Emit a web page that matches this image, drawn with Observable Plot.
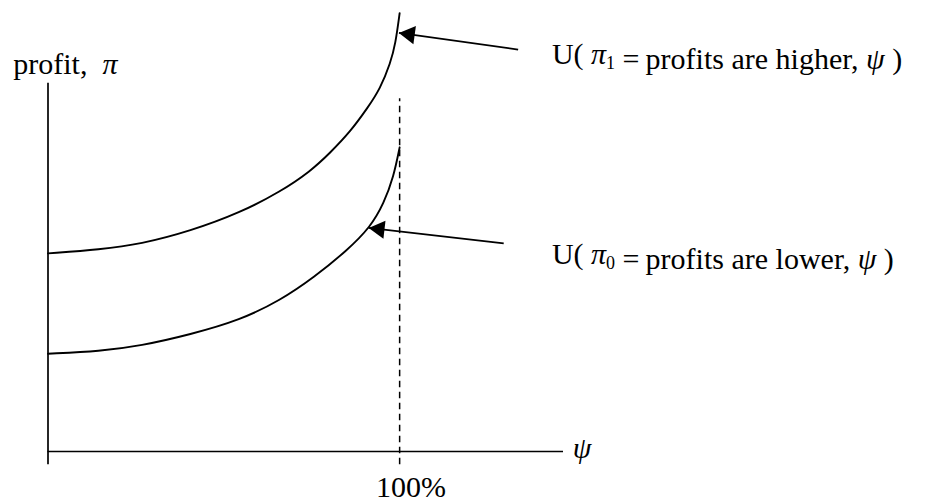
<!DOCTYPE html>
<html>
<head>
<meta charset="utf-8">
<script src="https://cdn.jsdelivr.net/npm/d3@7"></script>
<script src="https://cdn.jsdelivr.net/npm/@observablehq/plot@0.6"></script>
<style>
  html, body { margin: 0; padding: 0; background: #fff; }
  #chart svg { display: block; }
</style>
</head>
<body>
<div id="chart"></div>
<script>
// ψ (share, %) along x, profit π along y (arbitrary 0–100 units)
const psiHigh = [0, 14.9, 26.3, 40.5, 54.7, 66.1, 74.6, 80.3, 86.0, 90.8, 94.5, 97.4, 98.8, 100];
const piHigh  = [45.2, 46.1, 47.3, 50.3, 54.5, 59.3, 63.9, 68.2, 73.0, 78.3, 82.8, 88.7, 92.9, 100];
const psiLow  = [0, 14.9, 26.3, 40.5, 54.7, 66.1, 75.6, 85.1, 91.7, 95.5, 98.3, 100];
const piLow   = [22.3, 22.9, 24.1, 26.7, 30.0, 34.5, 39.7, 45.9, 51.2, 56.6, 62.7, 69.4];

const seriesNames = ["higher", "lower"];
const curveLabels = ["U( π₁ =\u2009profits are higher, ψ )", "U( π₀ =\u2009profits are lower, ψ )"];
const labelPsi = [143.3, 143.3];
const labelPi  = [90.6, 44.9];
const arrowTailPsi = [133.7, 129.6];
const arrowTailPi  = [91.7, 47.5];
const arrowTipPsi  = [99.8, 91.2];
const arrowTipPi   = [95.5, 51.0];

const psiMax = 146.6;           // extent of the ψ axis
const fullShare = 100;          // 100% marker
const fullShareLabel = "100%";
const dashTop = 80.5;           // top of the dashed line (π units)
const axisTop = 84.0;           // top of the profit axis
const axisBottom = -3.0;        // axes poke below the ψ axis
const yTitle = "profit,\u00a0 π";
const xTitle = "ψ";

const W = 938, H = 504;
const mL = 47.5, mR = W - 563, mT = 12.7, mB = H - 451;

const curves = [
  ...psiHigh.map((p, i) => ({s: "higher", psi: p, pi: piHigh[i]})),
  ...psiLow.map((p, i) => ({s: "lower", psi: p, pi: piLow[i]}))
];

const sx = Plot.scale({x: {domain: [0, psiMax], range: [mL, W - mR]}});
const sy = Plot.scale({y: {domain: [0, 100], range: [H - mB, mT]}});

const arrows = seriesNames.map((s, i) => {
  const x1 = sx.apply(arrowTailPsi[i]), y1 = sy.apply(arrowTailPi[i]);
  const x2 = sx.apply(arrowTipPsi[i]), y2 = sy.apply(arrowTipPi[i]);
  const dx = x2 - x1, dy = y2 - y1, len = Math.hypot(dx, dy);
  return {
    s, x1: arrowTailPsi[i], y1: arrowTailPi[i], x2: arrowTipPsi[i], y2: arrowTipPi[i],
    ux: dx / len, uy: dy / len,
    rot: Math.atan2(dx, -dy) * 180 / Math.PI
  };
});

const r = 6.8;
const centroidBack = 1.555 * r;
const font = "'Liberation Serif', 'Times New Roman', serif";

const headMarks = arrows.map(a => Plot.dot([a], {
  x: "x2", y: "y2", symbol: "triangle", r, rotate: a.rot,
  fill: "black", stroke: null,
  dx: -a.ux * centroidBack, dy: -a.uy * centroidBack
}));

const labels = seriesNames.map((s, i) => ({text: curveLabels[i], psi: labelPsi[i], pi: labelPi[i]}));
const textOpts = {fontSize: 30, fontFamily: font, fill: "black"};

const plot = Plot.plot({
  width: W, height: H,
  marginLeft: mL, marginRight: mR, marginTop: mT, marginBottom: mB,
  x: {domain: [0, psiMax], axis: null},
  y: {domain: [0, 100], axis: null},
  style: {fontFamily: font, background: "white", overflow: "visible"},
  marks: [
    Plot.ruleX([0], {y1: axisBottom, y2: axisTop, stroke: "black", strokeWidth: 1.7}),
    Plot.ruleY([0], {x1: 0, x2: psiMax, stroke: "black", strokeWidth: 1.7}),
    Plot.ruleX([fullShare], {y1: axisBottom, y2: dashTop, stroke: "black", strokeWidth: 1.5, strokeDasharray: "6.5,4.5"}),
    Plot.line(curves, {x: "psi", y: "pi", z: "s", curve: "basis", stroke: "black", strokeWidth: 1.9}),
    Plot.link(arrows, {x1: "x1", y1: "y1", x2: "x2", y2: "y2", stroke: "black", strokeWidth: 1.7}),
    ...headMarks,
    Plot.text(labels, {x: "psi", y: "pi", text: "text", textAnchor: "start", ...textOpts, className: "mathlabel"}),
    Plot.text([yTitle], {x: -9.9, y: 88.4, text: d => d, textAnchor: "start", ...textOpts, className: "mathlabel"}),
    Plot.text([xTitle], {x: 149.2, y: 0.6, text: d => d, textAnchor: "start", ...textOpts, className: "mathlabel"}),
    Plot.text([fullShareLabel], {x: 103.2, y: -8.3, text: d => d, ...textOpts})
  ]
});

// typeset Greek letters in italics and digits after them as subscripts
d3.select(plot).selectAll(".mathlabel text").each(function () {
  const el = d3.select(this);
  const str = el.text();
  el.text(null);
  const subMap = {"₀": "0", "₁": "1"};
  for (const ch of str) {
    if (ch === "π" || ch === "ψ") {
      el.append("tspan").attr("font-style", "italic").text(ch);
    } else if (subMap[ch]) {
      el.append("tspan").attr("font-size", "0.6em").attr("dy", "0.25em").text(subMap[ch]);
      el.append("tspan").attr("dy", "-0.15em").text("");
    } else {
      el.append("tspan").text(ch);
    }
  }
});

document.getElementById("chart").appendChild(plot);
</script>
</body>
</html>
